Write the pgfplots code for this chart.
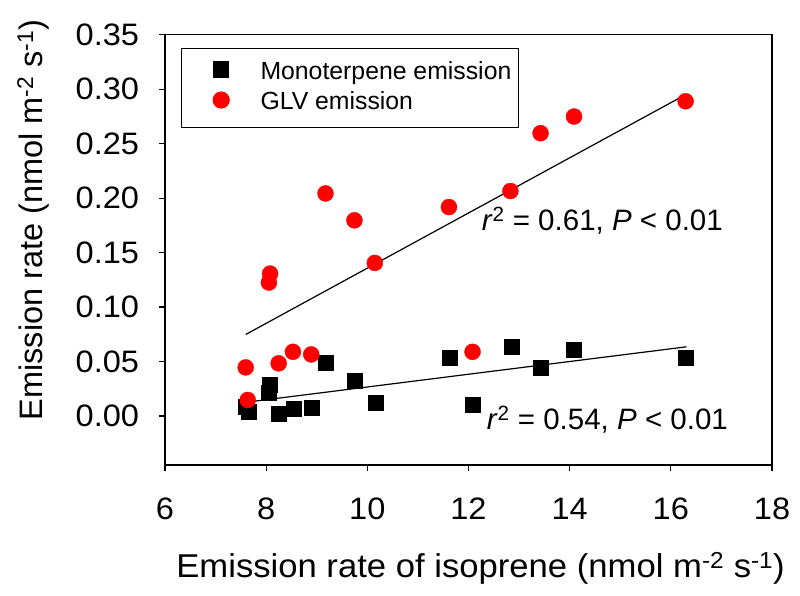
\documentclass[border=0pt]{standalone}
\usepackage{fontspec}
\setmainfont{Liberation Sans}
\newfontfamily\hfont{Liberation Sans}[FakeStretch=1.05]
\usepackage{pgfplots}
\pgfplotsset{compat=1.18}
\begin{document}
\begin{tikzpicture}
\begin{axis}[
  name=ax,
  width=607bp, height=430.3bp, scale only axis,
  xmin=6, xmax=18, ymin=-0.045, ymax=0.35,
  xtick={6,8,10,12,14,16,18},
  ytick={0,0.05,0.10,0.15,0.20,0.25,0.30,0.35},
  xtick pos=bottom, ytick pos=left, tick align=outside,
  major tick length=6bp,
  axis line style={line width=1.2bp},
  every tick/.style={black, line width=1.2bp},
  /pgf/number format/assume math mode=true,
  yticklabel={\pgfmathprintnumber[fixed,fixed zerofill,precision=2]{\tick}},
  tick label style={font=\hfont\fontsize{31bp}{36bp}\selectfont, inner sep=0bp},
  yticklabel style={anchor=east, xshift=-19.7bp},
  xticklabel style={anchor=north, yshift=-27bp},
  xlabel={Emission rate of isoprene (nmol m\textsuperscript{-2} s\textsuperscript{-1})},
  ylabel={Emission rate (nmol m\textsuperscript{-2} s\textsuperscript{-1})},
  xlabel style={font=\hfont\fontsize{33bp}{38bp}\selectfont, inner sep=0bp,
    at={(axis description cs:0.5198,-0.2603)}, anchor=base},
  ylabel style={font=\fontsize{32.5bp}{38bp}\selectfont, inner sep=0bp,
    at={(axis description cs:-0.2026,0.5694)}, anchor=base},
  legend style={
    at={(axis description cs:0.02636,0.9698)}, anchor=north west,
    draw=black, line width=1.2bp, inner xsep=7bp, inner ysep=12.8bp,
    font=\fontsize{24.8bp}{29bp}\selectfont,
    nodes={inner sep=0bp, text depth=5bp},
    row sep=7.5bp,
  },
  legend cell align=left,
  legend image code/.code={%
    \path (-8bp,0bp) (62.7bp,0bp);
    \draw[mark repeat=2,mark phase=2,#1] plot coordinates {(0bp,3bp) (24bp,3bp) (48bp,3bp)};
  },
]
\addplot[only marks, mark=square*, mark size=7.5bp, black, mark options={draw=black, fill=black}]
  table {
x y
7.595 0.0086
7.651 0.0040
8.078 0.0284
8.054 0.0214
8.255 0.0024
8.537 0.0070
8.899 0.0079
9.173 0.0492
9.753 0.0321
10.164 0.0122
11.621 0.0535
12.080 0.0107
12.845 0.0632
13.433 0.0443
14.086 0.0611
16.300 0.0535
};
\addlegendentry{Monoterpene emission}
\addplot[only marks, mark=*, mark size=8bp, red, mark options={draw=red, fill=red}]
  table {
x y
7.595 0.0446
7.635 0.0147
8.078 0.1307
8.054 0.1225
8.247 0.0483
8.529 0.0589
8.891 0.0565
9.173 0.2043
9.745 0.1796
10.148 0.1405
11.613 0.1918
12.080 0.0589
12.829 0.2065
13.425 0.2596
14.086 0.2749
16.292 0.2889
};
\addlegendentry{GLV emission}
\addplot[black, line width=1.2bp, forget plot] table {
x y
7.595 0.0748
16.292 0.2950
};
\addplot[black, line width=1.2bp, forget plot] table {
x y
7.635 0.0128
16.310 0.0635
};
\node[anchor=base west, inner sep=0bp, font=\fontsize{29.5bp}{34bp}\selectfont] at (axis cs:12.26,0.170) {\textit{r}\textsuperscript{2} = 0.61, \textit{P} < 0.01};
\node[anchor=base west, inner sep=0bp, font=\fontsize{29.5bp}{34bp}\selectfont] at (axis cs:12.36,-0.0122) {\textit{r}\textsuperscript{2} = 0.54, \textit{P} < 0.01};
\coordinate (bl) at (rel axis cs:0,0);
\coordinate (tr) at (rel axis cs:1,1);
\end{axis}
\pgfresetboundingbox
\path ([xshift=-165bp,yshift=-131bp]bl) rectangle ([xshift=28bp,yshift=34.7bp]tr);
\end{tikzpicture}
\end{document}
